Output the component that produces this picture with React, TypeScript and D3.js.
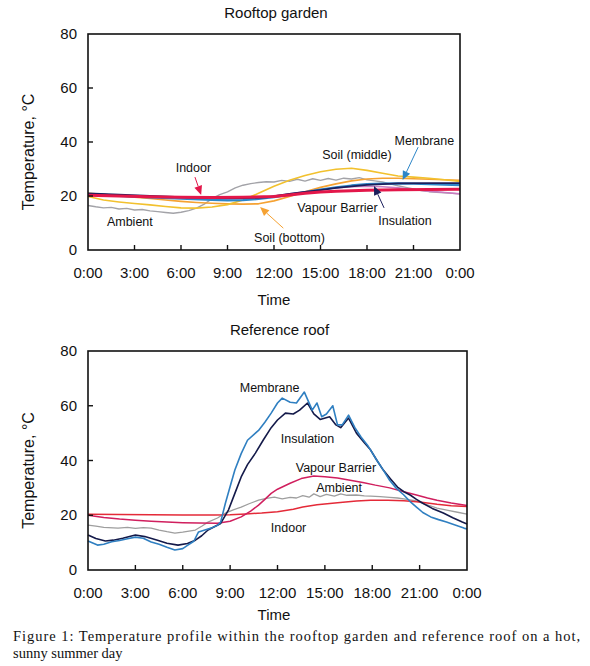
import React, { useEffect, useRef } from 'react';
import * as d3 from 'd3';

type Pt = [number, number];

// time in hours, value in °C
const timeTicks = [0, 3, 6, 9, 12, 15, 18, 21, 24];
const timeLabels = ['0:00', '3:00', '6:00', '9:00', '12:00', '15:00', '18:00', '21:00', '0:00'];
const tempTicks = [0, 20, 40, 60, 80];

// Rooftop garden
const gardenAmbient: Pt[] = [[0,16.5],[0.5,16],[1,15.6],[1.5,15.8],[2,15.2],[2.5,15.4],[3,14.8],[3.5,15],[4,14.5],[4.5,14.2],[5,13.9],[5.5,13.6],[6,14],[6.5,14.6],[7,15.5],[7.5,17],[8,19],[8.5,20.5],[9,21.5],[9.5,23],[10,24],[10.5,24.6],[11,25],[11.5,25.3],[12,25.2],[12.5,25.8],[13,25.4],[13.5,26.2],[14,25.5],[14.5,26.4],[15,25.8],[15.5,26.5],[16,25.9],[16.5,26.6],[17,26.3],[17.5,26.8],[18,26],[18.5,25.6],[19,25.2],[19.5,24.5],[20,23.8],[20.5,23.2],[21,22.6],[21.5,22],[22,21.6],[23,21.2],[24,20.8]];
const gardenSoilMiddle: Pt[] = [[0,19.8],[1,18.5],[2,17.8],[3,17.2],[4,16.7],[5,16.1],[6,15.6],[7,15.5],[8,15.9],[9,16.8],[10,18.5],[11,21],[12,23.6],[13,25.8],[14,27.6],[15,29],[16,29.9],[17,30.3],[18,29.5],[19,28.4],[20,27.4],[21,27],[22,26.6],[23,26],[24,25.4]];
const gardenSoilBottom: Pt[] = [[0,21],[1,20.6],[2,20.1],[3,19.6],[4,19.1],[5,18.5],[6,18],[7,17.6],[8,17.3],[9,17.1],[10,17],[11,17.1],[12,18.2],[13,19.8],[14,21.6],[15,23.2],[16,24.5],[17,25.6],[18,26.3],[19,26.6],[20,26.6],[21,26.4],[22,26.2],[23,26],[24,25.8]];
const gardenVapour: Pt[] = [[0,20.8],[2,20.3],[4,19.8],[6,19.3],[8,18.9],[9,18.8],[10,19],[11,19.4],[12,20],[13,20.8],[14,21.6],[15,22.4],[16,23],[17,23.4],[18,23.6],[19,23.4],[20,23],[21,22.4],[22,21.8],[23,21.3],[24,20.8]];
const gardenMembrane: Pt[] = [[0,20.5],[2,20],[4,19.5],[6,19],[8,18.6],[9,18.4],[10,18.5],[11,18.9],[12,19.6],[13,20.5],[14,21.4],[15,22.4],[16,23.2],[17,23.9],[18,24.4],[19,24.6],[20,24.7],[21,24.6],[22,24.4],[23,24.2],[24,24]];
const gardenInsulation: Pt[] = [[0,21],[2,20.5],[4,20],[6,19.6],[8,19.2],[10,19.2],[11.5,19.5],[13,20.8],[14,21.5],[15,22.2],[16,23],[17,23.6],[18,24.1],[19,24.4],[20,24.7],[22,24.8],[24,24.8]];
const gardenIndoor: Pt[] = [[0,20.3],[2,20],[4,19.7],[6,19.5],[8,19.4],[10,19.5],[12,19.8],[13,20.4],[14,21],[15,21.5],[16,21.8],[18,22.1],[20,22.3],[22,22.4],[24,22.5]];

// Reference roof
const roofAmbient: Pt[] = [[0,16.4],[0.5,16],[1,15.6],[1.9,15.3],[2.5,15.6],[3,15.2],[3.5,15.5],[4,15.3],[4.5,14.6],[5,14],[5.5,13.5],[6,13.8],[6.8,14.6],[7.2,16],[7.6,17.5],[8.2,19],[8.7,20.8],[9.2,22],[9.7,23],[10.2,24.2],[10.8,25.5],[11.3,26.2],[11.8,26.6],[12.3,26],[12.8,26.5],[13.2,26.3],[13.6,27.2],[14,26.6],[14.3,27.8],[14.7,26.8],[15.1,27.6],[15.6,27],[16,27.8],[16.4,27.3],[17,27.4],[17.5,27.1],[17.9,27],[18.5,26.8],[19.1,26.5],[19.6,26.3],[20.2,25.8],[20.8,25.2],[21.4,24],[22.1,22.6],[22.8,21.8],[23.4,21.1],[24,20.4]];
const roofIndoor: Pt[] = [[0,20.4],[2,20.3],[4,20.2],[6,20.1],[8,20.1],[9,20.2],[10,20.5],[11,20.8],[12,21.3],[13,22.2],[13.6,23],[14.5,23.8],[15.8,24.6],[17,25.2],[17.9,25.5],[19,25.5],[20,25.3],[21,24.8],[22.1,24],[23,23.5],[24,23.2]];
const roofVapour: Pt[] = [[0,20],[1,19.2],[2,18.6],[3,18.2],[4,17.8],[5,17.5],[6,17.3],[7,17.2],[8.2,17.1],[9,17.8],[9.7,19.4],[10.3,21.5],[10.8,23.7],[11.2,25.8],[11.6,28],[12,29.5],[12.8,31.7],[13.5,33.4],[14.3,34.3],[15,34.1],[15.8,33.6],[16.6,32.8],[17.4,32],[18.2,31],[19.1,30],[20,28.6],[20.8,27.4],[21.5,26.3],[22.1,25.5],[23,24.5],[24,23.6]];
const roofInsulation: Pt[] = [[0,12.8],[0.5,11.5],[1.1,10.6],[1.6,10.9],[2.2,11.6],[3,12.8],[3.6,12.2],[4.4,10.9],[5,9.8],[5.7,9.1],[6.3,9.7],[6.8,10.9],[7.2,12.5],[7.6,14.6],[8,15.8],[8.4,17],[8.9,22],[9.3,28],[9.7,34],[10.1,38.5],[10.6,42.7],[11.1,47.5],[11.6,52],[12,54.8],[12.5,57.3],[13,57],[13.4,58.4],[13.9,61],[14.3,57],[14.7,55],[15.3,56],[15.7,53],[16,52],[16.5,55.5],[17,50],[17.5,46.5],[17.9,43.8],[18.3,40],[18.7,36.5],[19.2,33],[19.6,30.3],[20,28.6],[20.4,27.4],[20.8,25.8],[21.2,24.4],[21.8,22.5],[22.5,20.8],[23.1,19.1],[23.7,17.5],[24,16.8]];
const roofMembrane: Pt[] = [[0,10.6],[0.6,9.1],[1,9.4],[1.5,10.3],[2,10.8],[2.5,11.4],[3,12],[3.5,11.6],[4,10.2],[4.5,9.4],[5,8.3],[5.5,7.3],[6,7.8],[6.3,9],[6.7,10.5],[7,13.9],[7.4,14.6],[7.8,15.3],[8.2,16.3],[8.4,17.5],[8.7,24.4],[9,30.5],[9.3,36.5],[9.7,42.5],[10.1,47.4],[10.8,51],[11.2,54],[11.6,57.3],[12,61],[12.3,62.8],[12.8,61.3],[13.2,61],[13.7,65],[14.2,58.4],[14.5,61],[14.8,56],[15.1,57],[15.5,60],[15.8,53],[16.1,53],[16.5,56.6],[16.9,52],[17.3,48.5],[17.7,45.6],[18.3,40],[18.7,36.5],[19.1,32.8],[19.5,30],[20,27.4],[20.4,25],[20.8,23],[21.2,21],[21.7,19.4],[22.2,18.4],[22.7,17.5],[23.2,16.5],[23.8,15.3],[24,15]];

type Series = { data: Pt[]; color: string; width: number };
type Note = { text: string; at: Pt; from?: Pt; to?: Pt; color?: string };

const FONT = '"Liberation Sans", Arial, sans-serif';

type PanelProps = {
  title: string;
  left: number;
  right: number;
  top: number;
  bottom: number;
  timeGap: number;
  series: Series[];
  notes: Note[];
};

const Panel = (props: PanelProps) => {
  const { title, left, right, top, bottom, timeGap, series, notes } = props;
  const ref = useRef<SVGGElement>(null);

  useEffect(() => {
    const g = d3.select(ref.current);
    g.selectAll('*').remove();

    const x = d3.scaleLinear().domain([0, 24]).range([left, right]);
    const y = d3.scaleLinear().domain([0, 80]).range([bottom, top]);

    const line = d3
      .line<Pt>()
      .x((d) => x(d[0]))
      .y((d) => y(d[1]));

    const plot = g.append('g');
    series.forEach((s) => {
      plot
        .append('path')
        .attr('d', line(s.data))
        .attr('fill', 'none')
        .attr('stroke', s.color)
        .attr('stroke-width', s.width)
        .attr('stroke-linejoin', 'round');
    });

    // frame
    g.append('rect')
      .attr('x', left)
      .attr('y', top)
      .attr('width', right - left)
      .attr('height', bottom - top)
      .attr('fill', 'none')
      .attr('stroke', '#111')
      .attr('stroke-width', 1.6);

    // inner ticks
    g.selectAll('.xt')
      .data(timeTicks.slice(1, -1))
      .enter()
      .append('line')
      .attr('x1', (d) => x(d))
      .attr('x2', (d) => x(d))
      .attr('y1', bottom)
      .attr('y2', bottom - 5)
      .attr('stroke', '#111')
      .attr('stroke-width', 1.4);
    g.selectAll('.yt')
      .data(tempTicks.slice(1, -1))
      .enter()
      .append('line')
      .attr('x1', left)
      .attr('x2', left + 5)
      .attr('y1', (d) => y(d))
      .attr('y2', (d) => y(d))
      .attr('stroke', '#111')
      .attr('stroke-width', 1.4);

    g.selectAll('.xl')
      .data(timeTicks)
      .enter()
      .append('text')
      .attr('x', (d) => x(d))
      .attr('y', bottom + 28)
      .attr('text-anchor', 'middle')
      .attr('font-size', 15)
      .attr('font-family', FONT)
      .attr('fill', '#111')
      .text((_, i) => timeLabels[i]);
    g.selectAll('.yl')
      .data(tempTicks)
      .enter()
      .append('text')
      .attr('x', left - 11)
      .attr('y', (d) => y(d) + 5)
      .attr('text-anchor', 'end')
      .attr('font-size', 15)
      .attr('font-family', FONT)
      .attr('fill', '#111')
      .text((d) => d);

    g.append('text')
      .attr('x', (left + right) / 2 + 2)
      .attr('y', top - 16)
      .attr('text-anchor', 'middle')
      .attr('font-size', 15)
      .attr('font-family', FONT)
      .attr('fill', '#111')
      .text(title);
    g.append('text')
      .attr('x', 274)
      .attr('y', bottom + timeGap)
      .attr('text-anchor', 'middle')
      .attr('font-size', 15)
      .attr('font-family', FONT)
      .attr('fill', '#111')
      .text('Time');
    g.append('text')
      .attr('transform', `translate(34,${(top + bottom) / 2 + 10}) rotate(-90)`)
      .attr('text-anchor', 'middle')
      .attr('font-size', 16)
      .attr('font-family', FONT)
      .attr('fill', '#111')
      .text('Temperature, °C');

    notes.forEach((n) => {
      if (n.from && n.to) {
        const x1 = x(n.from[0]);
        const y1 = y(n.from[1]);
        const x2 = x(n.to[0]);
        const y2 = y(n.to[1]);
        const a = Math.atan2(y2 - y1, x2 - x1);
        const L = 9;
        const W = 4;
        const bx = x2 - L * Math.cos(a);
        const by = y2 - L * Math.sin(a);
        g.append('line')
          .attr('x1', x1)
          .attr('y1', y1)
          .attr('x2', bx)
          .attr('y2', by)
          .attr('stroke', n.color)
          .attr('stroke-width', 1);
        g.append('path')
          .attr(
            'd',
            `M${x2},${y2}L${bx + W * Math.sin(a)},${by - W * Math.cos(a)}L${bx - W * Math.sin(a)},${by + W * Math.cos(a)}Z`
          )
          .attr('fill', n.color);
      }
      g.append('text')
        .attr('x', x(n.at[0]))
        .attr('y', y(n.at[1]) + 4.5)
        .attr('text-anchor', 'middle')
        .attr('font-size', 12.5)
        .attr('font-family', FONT)
        .attr('fill', '#111')
        .text(n.text);
    });
  }, [title, left, right, top, bottom, timeGap, series, notes]);

  return <g ref={ref} />;
};

const gardenSeries: Series[] = [
  { data: gardenAmbient, color: '#a3a3a8', width: 1.4 },
  { data: gardenSoilBottom, color: '#f5a233', width: 1.6 },
  { data: gardenSoilMiddle, color: '#f2c12e', width: 1.6 },
  { data: gardenVapour, color: '#c87cc0', width: 1.6 },
  { data: gardenMembrane, color: '#2d86c8', width: 2.2 },
  { data: gardenInsulation, color: '#1b1f5c', width: 1.8 },
  { data: gardenIndoor, color: '#e3174a', width: 3 },
];

const roofSeries: Series[] = [
  { data: roofAmbient, color: '#9e9e9e', width: 1.3 },
  { data: roofIndoor, color: '#e42a38', width: 1.5 },
  { data: roofVapour, color: '#d01f5e', width: 1.5 },
  { data: roofInsulation, color: '#141a4a', width: 1.6 },
  { data: roofMembrane, color: '#2f7fc1', width: 1.6 },
];

const gardenNotes: Note[] = [
  { text: 'Indoor', at: [6.8, 30.4], from: [6.9, 27], to: [7.3, 20.4], color: '#e3174a' },
  { text: 'Ambient', at: [2.7, 10.7] },
  { text: 'Soil (bottom)', at: [13.0, 4.8], from: [12.6, 8.1], to: [11.1, 15.9], color: '#f5a233' },
  { text: 'Soil (middle)', at: [17.35, 35.2] },
  { text: 'Membrane', at: [21.7, 40.7], from: [21.3, 38.1], to: [20.3, 25.9], color: '#2d86c8' },
  { text: 'Vapour Barrier', at: [16.1, 15.9] },
  { text: 'Insulation', at: [20.45, 11.1], from: [19.1, 15.6], to: [18.45, 23.7], color: '#1b1f5c' },
];

const roofNotes: Note[] = [
  { text: 'Membrane', at: [11.5, 66.5] },
  { text: 'Insulation', at: [13.9, 48.2] },
  { text: 'Vapour Barrier', at: [15.7, 37.3] },
  { text: 'Ambient', at: [15.9, 30] },
  { text: 'Indoor', at: [12.7, 15.7] },
];

export default function App() {
  return (
    <svg
      width={590}
      height={666}
      style={{ position: 'absolute', left: 0, top: 0, background: '#fff' }}
    >
      <rect width={590} height={666} fill="#fff" />
      <Panel title="Rooftop garden" left={88} right={460} top={34} bottom={250} timeGap={55} series={gardenSeries} notes={gardenNotes} />
      <Panel title="Reference roof" left={88} right={467} top={351} bottom={570} timeGap={50} series={roofSeries} notes={roofNotes} />
      <text
        x={13}
        y={641}
        fontFamily='"Liberation Serif", "Times New Roman", serif'
        fontSize={14.5}
        textLength={567}
        lengthAdjust="spacing"
        fill="#111"
      >
        Figure 1: Temperature profile within the rooftop garden and reference roof on a hot,
      </text>
      <text x={13} y={658} fontFamily='"Liberation Serif", "Times New Roman", serif' fontSize={14.5} fill="#111">
        sunny summer day
      </text>
    </svg>
  );
}
